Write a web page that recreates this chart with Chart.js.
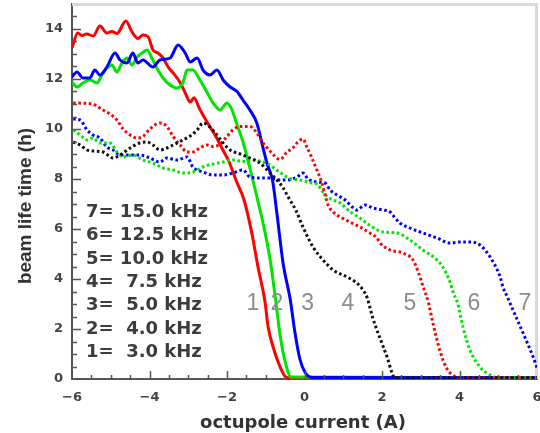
<!DOCTYPE html>
<html>
<head>
<meta charset="utf-8">
<script src="https://cdn.jsdelivr.net/npm/chart.js@4.4.1/dist/chart.umd.min.js"></script>
<style>
  html, body { margin: 0; padding: 0; background: #ffffff; }
  #wrap { width: 540px; height: 433px; position: relative; }
</style>
</head>
<body>
<div id="wrap"><canvas id="c"></canvas></div>
<script>
// ---- data: [octupole current (A), beam life time (h)] ----
const curve1_3kHz = [[-6.00,13.25],[-5.85,13.84],[-5.75,13.74],[-5.62,13.8],[-5.45,13.72],[-5.28,14.12],[-5.10,13.84],[-4.97,13.9],[-4.84,13.82],[-4.61,14.32],[-4.45,13.88],[-4.30,13.62],[-4.17,13.76],[-4.04,13.7],[-3.91,13.16],[-3.78,13.04],[-3.65,12.84],[-3.52,12.48],[-3.39,12.24],[-3.21,11.86],[-3.08,11.45],[-2.95,11.08],[-2.85,11.25],[-2.72,10.85],[-2.59,10.48],[-2.46,10.14],[-2.28,9.68],[-2.12,9.2],[-1.94,8.66],[-1.76,7.92],[-1.56,7.16],[-1.36,5.84],[-1.20,4.48],[-1.02,3.1],[-0.94,2.1],[-0.81,1.28],[-0.63,0.48],[-0.50,0.1],[-0.42,0.05],[6.0,0.05]];
const curve2_4kHz = [[-6.00,11.88],[-5.87,11.68],[-5.72,11.84],[-5.54,11.96],[-5.35,11.84],[-5.23,12.16],[-5.10,12.44],[-4.97,12.56],[-4.84,12.28],[-4.71,12.64],[-4.58,12.84],[-4.45,12.56],[-4.32,12.88],[-4.19,13.04],[-4.06,13.16],[-3.94,12.84],[-3.81,12.44],[-3.65,12.04],[-3.47,11.76],[-3.29,11.64],[-3.14,11.84],[-3.03,12.36],[-2.88,12.36],[-2.70,11.96],[-2.52,11.48],[-2.36,11.04],[-2.18,10.76],[-2.00,11.04],[-1.87,10.76],[-1.74,10.16],[-1.59,9.5],[-1.41,8.44],[-1.23,7.3],[-1.05,6.1],[-0.89,4.8],[-0.74,3.1],[-0.63,1.75],[-0.50,0.7],[-0.35,0.08],[6.0,0.05]];
const curve3_5kHz = [[-6.00,12.08],[-5.87,12.28],[-5.72,12.04],[-5.54,12.04],[-5.41,12.36],[-5.28,12.16],[-5.10,12.48],[-4.89,13.04],[-4.76,12.76],[-4.58,12.64],[-4.43,13.04],[-4.30,12.64],[-4.17,12.76],[-3.91,12.48],[-3.73,12.76],[-3.47,12.84],[-3.26,13.36],[-3.08,13.04],[-2.95,12.68],[-2.77,12.84],[-2.62,12.36],[-2.44,12.16],[-2.26,12.36],[-2.10,11.96],[-1.92,11.68],[-1.74,11.5],[-1.59,11.16],[-1.41,10.76],[-1.23,10.24],[-1.10,9.44],[-0.97,8.64],[-0.82,7.9],[-0.71,6.6],[-0.55,4.6],[-0.37,3.2],[-0.25,1.9],[-0.12,0.8],[0.02,0.25],[0.20,0.06],[6.0,0.05]];
const curve4_7k5Hz = [[-5.97,9.48],[-5.79,9.36],[-5.61,9.16],[-5.46,9.12],[-5.20,9.08],[-4.94,8.84],[-4.76,8.96],[-4.50,9.24],[-4.25,9.44],[-4.06,9.48],[-3.91,9.36],[-3.73,9.16],[-3.55,9.24],[-3.39,9.36],[-3.14,9.56],[-2.95,9.72],[-2.77,9.96],[-2.62,10.24],[-2.44,10.08],[-2.26,9.76],[-2.10,9.44],[-1.92,9.16],[-1.66,9.0],[-1.41,8.84],[-1.15,8.64],[-0.89,8.24],[-0.71,7.96],[-0.55,7.64],[-0.40,7.22],[-0.22,6.74],[-0.04,6.08],[0.22,5.28],[0.48,4.76],[0.74,4.36],[1.10,4.08],[1.35,3.84],[1.51,3.56],[1.61,3.28],[1.77,2.4],[2.03,1.3],[2.13,0.88],[2.26,0.24],[2.32,0.05],[6.0,0.05]];
const curve5_10kHz = [[-5.97,11.04],[-5.46,11.0],[-5.35,10.9],[-5.20,10.76],[-5.02,10.6],[-4.84,10.36],[-4.68,10.0],[-4.50,9.76],[-4.32,9.64],[-4.17,9.7],[-3.99,10.0],[-3.73,10.24],[-3.55,10.1],[-3.39,9.7],[-3.21,9.36],[-3.03,9.08],[-2.88,9.08],[-2.70,9.24],[-2.52,9.36],[-2.36,9.3],[-2.18,9.4],[-2.00,9.7],[-1.85,9.96],[-1.66,10.1],[-1.41,10.1],[-1.23,9.84],[-1.07,9.44],[-0.89,9.12],[-0.63,8.78],[-0.45,9.08],[-0.30,9.24],[-0.17,9.48],[-0.04,9.6],[0.06,9.28],[0.19,8.84],[0.32,8.36],[0.45,7.84],[0.53,7.36],[0.61,6.96],[0.74,6.68],[0.92,6.48],[1.17,6.28],[1.43,6.08],[1.69,5.84],[1.87,5.64],[1.95,5.44],[2.21,5.16],[2.54,5.04],[2.80,4.76],[2.93,4.3],[3.06,3.7],[3.19,3.1],[3.32,2.2],[3.50,1.1],[3.68,0.4],[3.88,0.1],[4.0,0.05],[6.0,0.05]];
const curve6_12k5Hz = [[-5.97,9.96],[-5.79,9.76],[-5.61,9.56],[-5.46,9.64],[-5.28,9.44],[-5.02,9.44],[-4.84,9.08],[-4.68,8.88],[-4.43,8.96],[-4.17,8.76],[-3.91,8.64],[-3.65,8.44],[-3.39,8.36],[-3.14,8.24],[-2.88,8.28],[-2.62,8.48],[-2.36,8.6],[-2.10,8.68],[-1.85,8.76],[-1.59,8.7],[-1.33,8.76],[-1.07,8.68],[-0.89,8.56],[-0.63,8.26],[-0.37,8.02],[-0.12,7.96],[0.14,7.86],[0.35,7.76],[0.48,7.46],[0.66,7.22],[0.92,7.04],[1.17,6.7],[1.43,6.44],[1.69,6.14],[2.03,5.88],[2.39,5.84],[2.72,5.56],[3.06,5.16],[3.42,4.76],[3.57,4.48],[3.75,3.9],[3.85,3.4],[3.94,3.1],[4.09,2.08],[4.27,1.16],[4.53,0.48],[4.79,0.16],[5.0,0.05],[6.0,0.05]];
const curve7_15kHz = [[-5.97,10.4],[-5.79,10.36],[-5.61,9.96],[-5.46,9.76],[-5.28,9.64],[-5.10,9.28],[-4.94,9.16],[-4.76,8.96],[-4.50,8.96],[-4.25,8.96],[-3.99,8.84],[-3.73,8.68],[-3.55,8.84],[-3.29,8.76],[-3.03,8.88],[-2.88,8.48],[-2.62,8.28],[-2.36,8.16],[-2.10,8.16],[-1.85,8.24],[-1.59,8.36],[-1.41,8.08],[-1.15,8.04],[-0.89,8.04],[-0.63,7.96],[-0.45,7.96],[-0.19,8.08],[-0.04,8.24],[0.09,8.0],[0.32,7.88],[0.53,7.84],[0.66,7.56],[0.84,7.36],[1.05,7.16],[1.23,6.88],[1.35,6.76],[1.56,6.96],[1.77,6.84],[2.03,6.76],[2.21,6.68],[2.34,6.44],[2.46,6.24],[2.72,6.04],[3.06,5.84],[3.42,5.64],[3.75,5.44],[4.01,5.48],[4.27,5.48],[4.53,5.36],[4.79,4.88],[5.05,4.08],[5.12,3.68],[5.23,3.3],[5.38,2.76],[5.64,1.84],[5.90,0.88],[6.0,0.45]];

const xTickValues = [-6, -4, -2, 0, 2, 4, 6];
const yTickValues = [0, 2, 4, 6, 8, 10, 12, 14];
const legendLines = ['7= 15.0 kHz', '6= 12.5 kHz', '5= 10.0 kHz', '4=  7.5 kHz', '3=  5.0 kHz', '2=  4.0 kHz', '1=  3.0 kHz'];
const curveNames = ['1', '2', '3', '4', '5', '6', '7'];
const xTitle = 'octupole current (A)';
const yTitle = 'beam life time (h)';

// ---- presentation ----
const toXY = arr => arr.map(p => ({ x: p[0], y: p[1] }));
const fmt = v => (v < 0 ? '\u2212' + Math.abs(v) : String(v));
const RED = '#ff0000', GREEN = '#00e400', BLUE = '#0000ff', BLACK = '#111111';
const dotted = (data, color) => ({ data: toXY(data), borderColor: color, borderWidth: 3, borderDash: [2.6, 2.6], borderCapStyle: 'butt', pointRadius: 0, fill: false, cubicInterpolationMode: 'monotone' });
const solid = (data, color) => ({ data: toXY(data), borderColor: color, borderWidth: 3, pointRadius: 0, fill: false, cubicInterpolationMode: 'monotone' });

// positions of the curve number labels, in data units (placement only)
const curveLabelPos = { x: [-1.33, -0.71, 0.08, 1.12, 2.72, 4.37, 5.69], y: 2.76 };

const noPad = s => { s.paddingLeft = 0; s.paddingRight = 0; s.paddingTop = 0; s.paddingBottom = 0; };

const decor = {
  id: 'decor',
  beforeDatasetsDraw(chart) {
    const { ctx, chartArea: a } = chart;
    ctx.save();
    ctx.strokeStyle = '#d9d9d9';
    ctx.lineWidth = 3;
    ctx.beginPath();
    ctx.moveTo(a.left, a.top + 0.5);
    ctx.lineTo(a.right - 0.5, a.top + 0.5);
    ctx.lineTo(a.right - 0.5, a.bottom);
    ctx.stroke();
    ctx.restore();
  },
  afterDatasetsDraw(chart) {
    const { ctx, chartArea: a, scales } = chart;
    const xs = scales.x, ys = scales.y;
    ctx.save();
    // inward tick marks
    ctx.strokeStyle = '#555';
    ctx.lineWidth = 1.5;
    ctx.beginPath();
    for (let i = 1; i < 30; i++) {
      const v = i / 2;
      const py = Math.round(ys.getPixelForValue(v)) + 0.5;
      const len = (v % 2 === 0) ? 9 : 5;
      ctx.moveTo(a.left, py); ctx.lineTo(a.left + len, py);
    }
    for (let i = -11; i < 12; i++) {
      const v = i / 2;
      const px = Math.round(xs.getPixelForValue(v)) + 0.5;
      const len = (v % 2 === 0) ? 8 : 4;
      ctx.moveTo(px, a.bottom); ctx.lineTo(px, a.bottom - len);
    }
    ctx.stroke();
    // curve number labels
    ctx.fillStyle = '#8c8c8c';
    ctx.font = '23px "Liberation Sans", Arial, sans-serif';
    ctx.textAlign = 'center';
    ctx.textBaseline = 'alphabetic';
    curveNames.forEach((n, i) => {
      ctx.fillText(n, xs.getPixelForValue(curveLabelPos.x[i]), ys.getPixelForValue(curveLabelPos.y));
    });
    // legend text block
    ctx.fillStyle = '#3c3c3c';
    ctx.font = 'bold 18px "DejaVu Sans", sans-serif';
    ctx.textAlign = 'left';
    legendLines.forEach((t, i) => {
      ctx.fillText(t, 86, 217 + 23.3 * i);
    });
    ctx.restore();
  },
  afterDraw(chart) {
    const { ctx } = chart;
    ctx.save();
    ctx.fillStyle = '#333';
    ctx.font = 'bold 18px "DejaVu Sans", sans-serif';
    ctx.textAlign = 'center';
    ctx.textBaseline = 'alphabetic';
    ctx.fillText(xTitle, 303, 428);
    ctx.translate(31, 206);
    ctx.rotate(-Math.PI / 2);
    ctx.font = 'bold 19px "Liberation Sans", Arial, sans-serif';
    ctx.fillText(yTitle, 0, 0);
    ctx.restore();
  }
};

const tickFont = { family: '"DejaVu Sans", sans-serif', size: 13, weight: 'bold' };

new Chart(document.getElementById('c'), {
  type: 'line',
  data: {
    datasets: [
      dotted(curve4_7k5Hz, BLACK),
      dotted(curve5_10kHz, RED),
      dotted(curve6_12k5Hz, GREEN),
      dotted(curve7_15kHz, BLUE),
      solid(curve3_5kHz, BLUE),
      solid(curve2_4kHz, GREEN),
      solid(curve1_3kHz, RED)
    ]
  },
  options: {
    animation: false,
    responsive: true,
    maintainAspectRatio: false,
    devicePixelRatio: 1,
    layout: { padding: { top: 4, right: 3, left: 0, bottom: 0 } },
    plugins: { legend: { display: false }, tooltip: { enabled: false } },
    scales: {
      x: {
        type: 'linear', min: -6, max: 6,
        afterFit(s) { s.height = 54; noPad(s); },
        afterBuildTicks(s) { s.ticks = xTickValues.map(v => ({ value: v })); },
        grid: { display: false, drawTicks: false },
        border: { display: true, color: '#555', width: 2 },
        ticks: { padding: 11, color: '#444', font: tickFont, maxRotation: 0, autoSkip: false, callback: v => fmt(v) }
      },
      y: {
        type: 'linear', min: 0, max: 15,
        afterFit(s) { s.width = 72; noPad(s); },
        afterBuildTicks(s) { s.ticks = yTickValues.map(v => ({ value: v })); },
        grid: { display: false, drawTicks: false },
        border: { display: true, color: '#555', width: 2 },
        ticks: { padding: 9, color: '#444', font: tickFont, autoSkip: false, callback: v => fmt(v) }
      }
    }
  },
  plugins: [decor]
});
</script>
</body>
</html>
